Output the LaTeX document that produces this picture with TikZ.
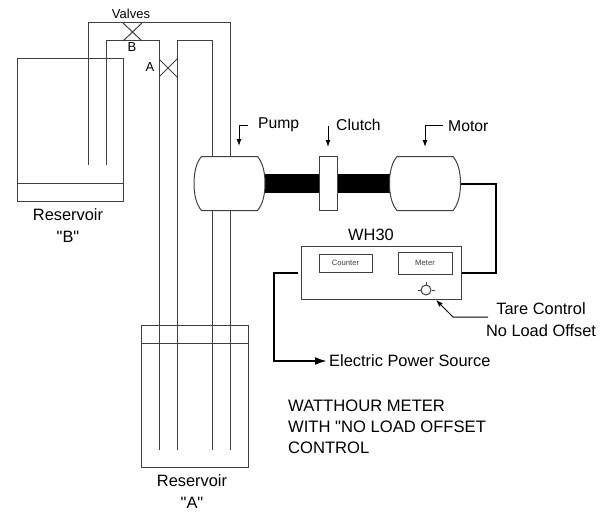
\documentclass[tikz,border=0pt]{standalone}
\usepackage{fontspec}
\setmainfont{Liberation Sans}[Ligatures=TeXOff]
\usetikzlibrary{arrows.meta, positioning}
\tikzset{
  line/.style={line width=1pt, draw=black!75},
  wire/.style={line width=2pt, draw=black},
  pointer/.style={line width=1pt, draw=black, -{Latex[length=7pt,width=5pt]}},
  txt/.style={inner sep=0pt, font=\fontsize{16.4}{22}\selectfont, align=center},
  lbl/.style={inner sep=0pt, font=\fontsize{15.7}{19}\selectfont},
  small/.style={inner sep=0pt, font=\fontsize{13}{16}\selectfont},
  tiny/.style={inner sep=0pt, font=\fontsize{7.7}{9}\selectfont, text=black!75},
  unit/.style={line, draw, fill=white, inner sep=0pt},
  machine/.style={inner sep=0pt, minimum width=71pt, minimum height=54pt},
}

\begin{document}
\begin{tikzpicture}[x=1pt, y=-1pt]
    \useasboundingbox (0,0) rectangle (607,511);
    % reservoirs
    \node[line, draw, inner sep=0pt, minimum width=106pt, minimum height=142pt] (resB) at (70,130) {};
    \node[line, draw, inner sep=0pt, minimum width=107pt, minimum height=142pt] (resA) at (194.5,396) {};
    \draw[line] (17,183) -- (123,183);
    \draw[line] (141,343) -- (248,343);
    % pipes
    \draw[line] (88,165) |- (230,23) -- (230,450);
    \draw[line] (106,165) |- (159,41) -- (159,450);
    \draw[line] (177,450) |- (212,41) -- (212,450);
    % valves
    \draw[line] (123,23) -- (142,41) (142,23) -- (123,41);
    \draw[line] (159,59) -- (177,77) (177,59) -- (159,77);
    \node[small] (valves) at (131,14) {Valves};
    \node[small] (valveB) at (132,47) {B};
    \node[small] (valveA) at (150,67) {A};
    % shaft
    \fill (265,174) rectangle (390,193);
    % pump and motor
    \foreach \m/\x in {pump/229.5, motor/425} {
      \node[machine] (\m) at (\x,183.5) {};
      \draw[line, fill=white, shift={(\x,183.5)}] (-28,-27) -- (28,-27)
        .. controls (33,-21) and (35.5,-12) .. (35.5,0)
        .. controls (35.5,12) and (33,21) .. (28,27) -- (-28,27)
        .. controls (-33,21) and (-35.5,12) .. (-35.5,0)
        .. controls (-35.5,-12) and (-33,-21) .. (-28,-27) -- cycle;
    }
    \node[unit, minimum width=18pt, minimum height=54pt] (clutch) at (328,183.5) {};
    % labels with pointers
    \node[lbl, anchor=west] (pumpLbl) at (258,125) {Pump};
    \node[lbl, anchor=west] (clutchLbl) at (336,125) {Clutch};
    \node[lbl, anchor=west] (motorLbl) at (448,126) {Motor};
    \draw[pointer] (248,125) -| (239,146);
    \draw[pointer] (328,126) -- (328,147);
    \draw[pointer] (443,125) -| (425,147);
    % meter
    \node[unit, minimum width=160pt, minimum height=53pt] (wh) at (381,272.5) {};
    \node[txt, above=5pt of wh.north, xshift=-10pt] (whLbl) {WH30};
    \node[unit, tiny, minimum width=53pt, minimum height=18pt] (counter) at (345.5,263) {Counter};
    \node[unit, tiny, minimum width=54pt, minimum height=22pt] (meter) at (425,263) {Meter};
    \node[line, draw, circle, inner sep=0pt, minimum size=10pt] (knob) at (426,290) {};
    \draw[line] (knob.west) -- ++(-3,0) (knob.east) -- ++(3,0) (knob.north) -- ++(0,-3);
    % wiring
    \coordinate (wireTurn) at (274,361);
    \node[txt, anchor=west] (source) at (329,361) {Electric Power Source};
    \draw[wire] (motor.east) -- ++(35,0) |- (wh.east);
    \draw[wire, shorten >=2pt, -{Latex[length=12pt,width=8pt]}] ([xshift=-3pt]wh.west) -| (wireTurn) -- (source.west);
    % tare control
    \node[txt] (tare) at (541,320) {Tare Control\\No Load Offset};
    \coordinate (tareEnd) at (488,317);
    \coordinate (tareBend) at (453,317);
    \draw[pointer] (tareEnd) -- (tareBend) -- (436,300);
    % captions
    \node[txt] (capB) at (68,226) {Reservoir\\"B"};
    \node[txt] (capA) at (192,492) {Reservoir\\"A"};
    \node[anchor=west, inner sep=0pt, align=left, font=\fontsize{16.6}{21}\selectfont] (note) at (288,427)
      {WATTHOUR METER\\WITH "NO LOAD OFFSET\\CONTROL};
  \end{tikzpicture}
\end{document}
